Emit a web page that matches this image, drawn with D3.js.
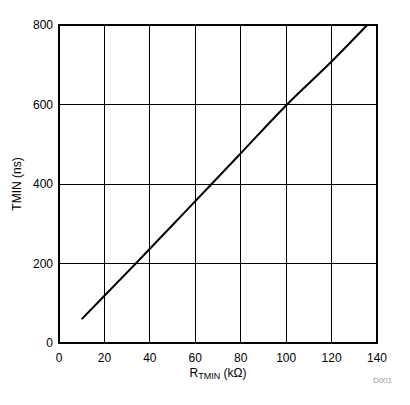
<!DOCTYPE html>
<html>
<head>
<meta charset="utf-8">
<script src="https://cdn.jsdelivr.net/npm/d3@7"></script>
<style>
  body { margin: 0; background: #fff; }
  text { font-family: "Liberation Sans", Arial, sans-serif; }
</style>
</head>
<body>
<div id="chart"></div>
<script>
// values
var rtmin = [10, 20, 33.8, 50, 67.2, 80, 100.4, 120, 135.7];
var tmin  = [60, 119, 200, 297, 400, 477, 600, 708, 800];
var xTicks = [0, 20, 40, 60, 80, 100, 120, 140];
var yTicks = [0, 200, 400, 600, 800];

var WIDTH = 410, HEIGHT = 405;
var margin = {left: 59, top: 25, right: 33, bottom: 62};
var w = WIDTH - margin.left - margin.right,
    h = HEIGHT - margin.top - margin.bottom;

var svg = d3.select("#chart").append("svg")
    .attr("width", WIDTH)
    .attr("height", HEIGHT);

var x = d3.scaleLinear().domain([0, 140]).range([margin.left, margin.left + w]);
var y = d3.scaleLinear().domain([0, 800]).range([margin.top + h, margin.top]);

// grid
svg.append("g")
    .selectAll("line")
    .data(xTicks.slice(1, -1))
    .enter().append("line")
    .attr("x1", d => x(d)).attr("x2", d => x(d))
    .attr("y1", y(0)).attr("y2", y(800))
    .attr("stroke", "#000").attr("stroke-width", 1).attr("shape-rendering", "crispEdges");

svg.append("g")
    .selectAll("line")
    .data(yTicks.slice(1, -1))
    .enter().append("line")
    .attr("y1", d => y(d)).attr("y2", d => y(d))
    .attr("x1", x(0)).attr("x2", x(140))
    .attr("stroke", "#000").attr("stroke-width", 1).attr("shape-rendering", "crispEdges");

// frame
svg.append("rect")
    .attr("x", x(0)).attr("y", y(800))
    .attr("width", x(140) - x(0)).attr("height", y(0) - y(800))
    .attr("fill", "none").attr("stroke", "#000").attr("stroke-width", 2);

// tick labels
svg.append("g")
    .selectAll("text")
    .data(xTicks)
    .enter().append("text")
    .attr("x", d => x(d)).attr("y", y(0) + 19)
    .attr("text-anchor", "middle")
    .attr("font-size", 12)
    .text(d => d);

svg.append("g")
    .selectAll("text")
    .data(yTicks)
    .enter().append("text")
    .attr("x", x(0) - 6).attr("y", d => y(d) + 4)
    .attr("text-anchor", "end")
    .attr("font-size", 12)
    .text(d => d);

// curve
var line = d3.line()
    .x((d, i) => x(rtmin[i]))
    .y(d => y(d))
    .curve(d3.curveMonotoneX);

svg.append("path")
    .datum(tmin)
    .attr("d", line)
    .attr("fill", "none")
    .attr("stroke", "#000")
    .attr("stroke-width", 2);

// axis titles
var xt = svg.append("text")
    .attr("x", x(70)).attr("y", 377)
    .attr("text-anchor", "middle")
    .attr("font-size", 12);
xt.append("tspan").text("R");
xt.append("tspan").attr("font-size", 9).attr("dy", 2).text("TMIN");
xt.append("tspan").attr("dy", -2).text(" (k\u03A9)");

svg.append("text")
    .attr("transform", "translate(21," + y(400) + ") rotate(-90)")
    .attr("text-anchor", "middle")
    .attr("font-size", 12)
    .text("TMIN (ns)");

svg.append("text")
    .attr("x", 392).attr("y", 383)
    .attr("text-anchor", "end")
    .attr("font-size", 8)
    .attr("fill", "#999")
    .text("D001");
</script>
</body>
</html>
